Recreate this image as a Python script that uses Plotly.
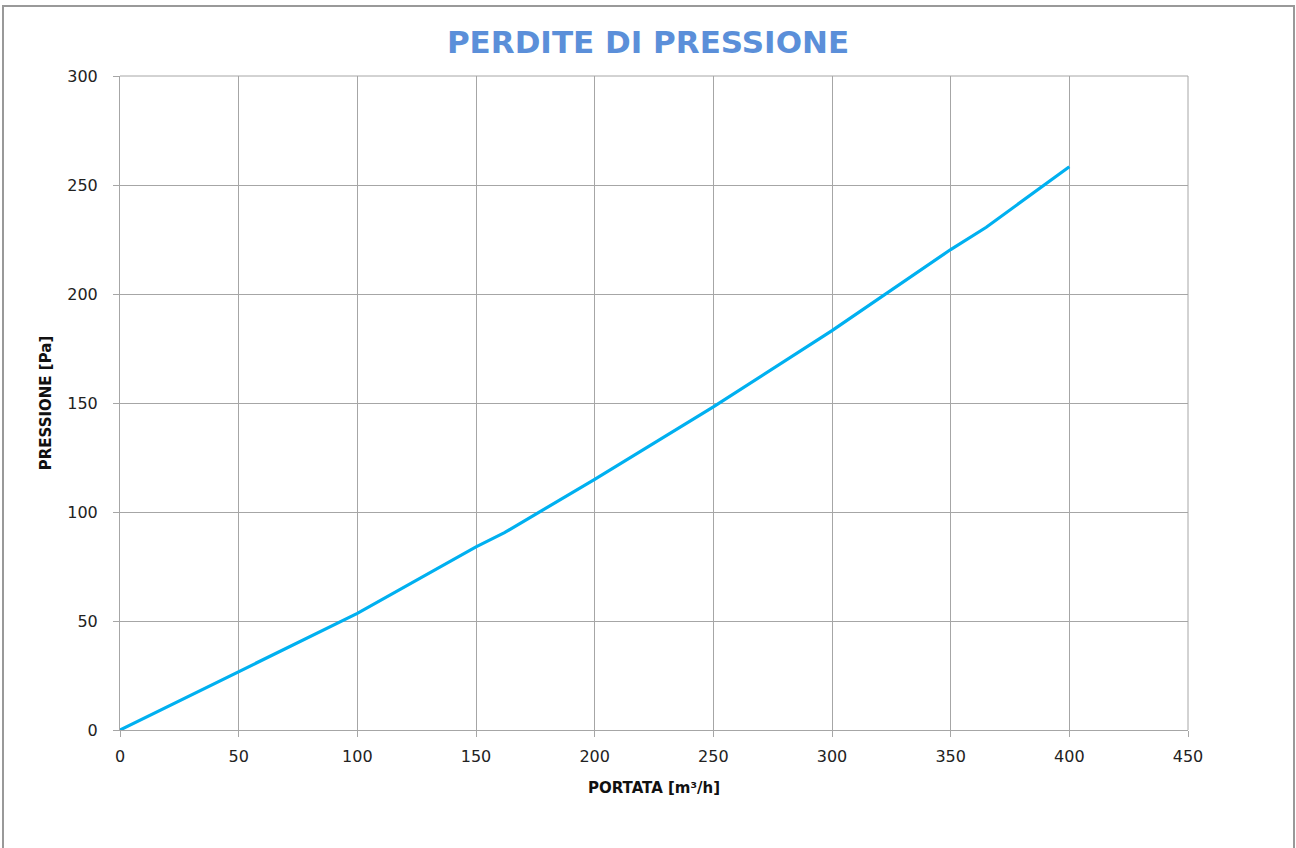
import plotly.graph_objects as go

portata = [0, 50, 100, 150, 162, 200, 250, 300, 350, 365, 400]
pressione = [0, 26.8, 53.5, 84.0, 90.5, 115.0, 148.2, 183.2, 220.4, 230.6, 258.4]

x_ticks = [0, 50, 100, 150, 200, 250, 300, 350, 400, 450]
y_ticks = [0, 50, 100, 150, 200, 250, 300]

W, H = 1296, 848
L, R, T, B = 120, 108, 76, 118
pw, ph = W - L - R, H - T - B

def px(xp):
    return (xp - L) / pw

def py(yp):
    return (H - B - yp) / ph

fig = go.Figure()
fig.add_trace(go.Scatter(
    x=portata, y=pressione, mode="lines",
    line=dict(color="#00b0f0", width=3.2),
    showlegend=False, hoverinfo="x+y",
))

grid = "#a6a6a6"
fig.update_layout(
    width=W, height=H,
    margin=dict(l=L, r=R, t=T, b=B),
    paper_bgcolor="white", plot_bgcolor="white",
    title=dict(
        text="<b>PERDITE DI PRESSIONE</b>",
        x=0.5, xanchor="center", y=1 - 42 / H, yanchor="middle",
        font=dict(family="DejaVu Sans", size=31, color="#5b8fd9"),
    ),
    xaxis=dict(
        range=[0, 450], tickmode="array", tickvals=x_ticks,
        ticktext=[str(v) for v in x_ticks],
        showgrid=True, gridcolor=grid, gridwidth=1,
        showline=True, linecolor=grid, linewidth=1, mirror=False,
        ticks="outside", ticklen=6, tickcolor=grid,
        ticklabelstandoff=6,
        zeroline=False,
        tickfont=dict(family="DejaVu Sans", size=16, color="#222"),
        title=dict(text="<b>PORTATA [m³/h]</b>", standoff=17,
                   font=dict(family="DejaVu Sans", size=15, color="#111")),
    ),
    yaxis=dict(
        range=[0, 300], tickmode="array", tickvals=y_ticks,
        ticktext=[str(v) for v in y_ticks],
        showgrid=True, gridcolor=grid, gridwidth=1,
        showline=True, linecolor=grid, linewidth=1,
        ticks="outside", ticklen=6, tickcolor=grid,
        ticklabelstandoff=12,
        zeroline=False,
        tickfont=dict(family="DejaVu Sans", size=16, color="#222"),
        title=dict(text="<b>PRESSIONE [Pa]</b>", standoff=12,
                   font=dict(family="DejaVu Sans", size=15, color="#111")),
    ),
    shapes=[
        dict(type="rect", xref="paper", yref="paper",
             x0=px(3), x1=px(1294), y0=py(860), y1=py(6),
             line=dict(color="#999999", width=2), layer="below"),
        dict(type="line", xref="paper", yref="paper",
             x0=1, x1=1, y0=0, y1=1, line=dict(color=grid, width=1)),
        dict(type="line", xref="paper", yref="paper",
             x0=0, x1=1, y0=1, y1=1, line=dict(color=grid, width=1)),
    ],
)

fig.write_html("out.html", config={"displayModeBar": False},
               post_script="document.body.style.margin='0';")
